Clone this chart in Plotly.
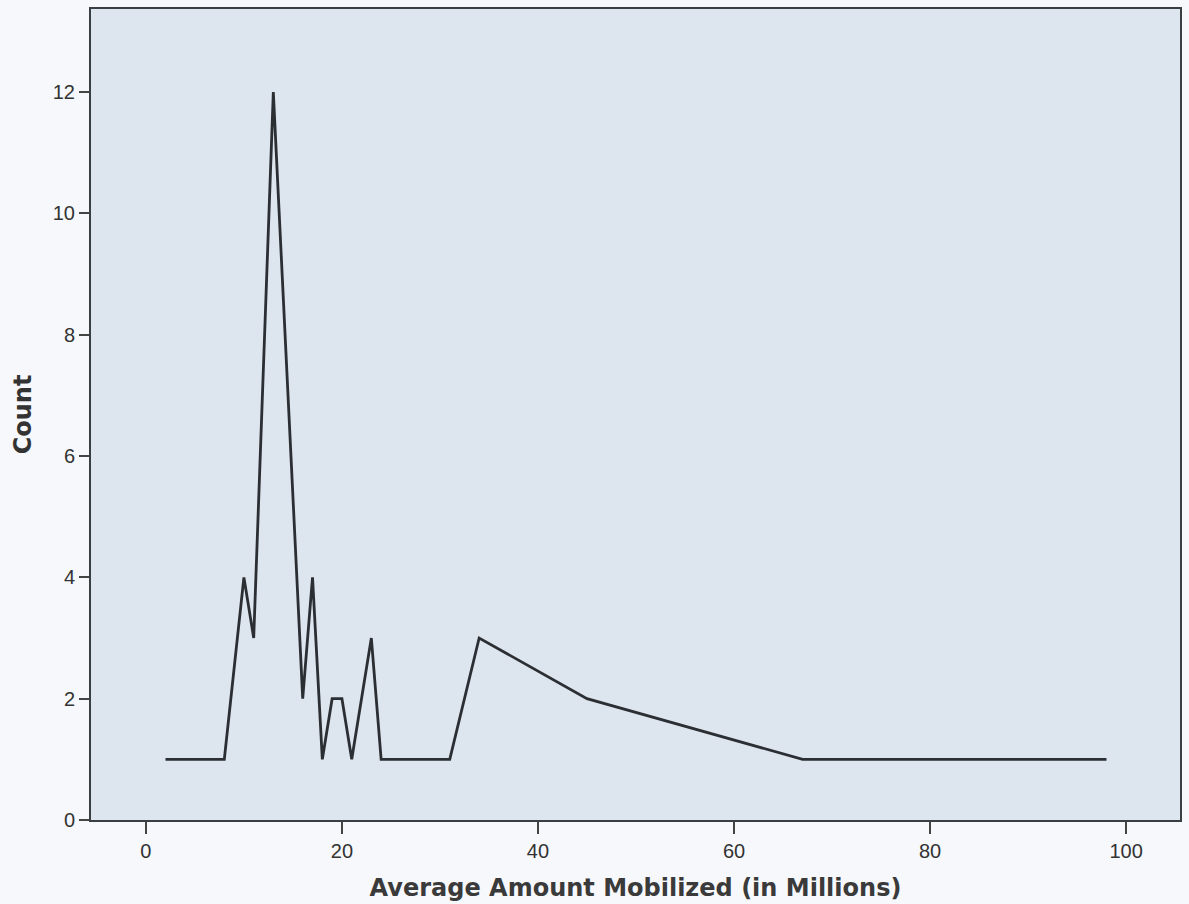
import plotly.graph_objects as go

amount = [2, 8, 10, 11, 13, 16, 17, 18, 19, 20, 21, 23, 24, 31, 34, 45, 67, 98]
count = [1, 1, 4, 3, 12, 2, 4, 1, 2, 2, 1, 3, 1, 1, 3, 2, 1, 1]

x_ticks = [0, 20, 40, 60, 80, 100]
y_ticks = [0, 2, 4, 6, 8, 10, 12]

fig = go.Figure()
fig.add_trace(go.Scatter(
    x=amount, y=count, mode="lines",
    line=dict(color="#2b2f33", width=2.8),
    showlegend=False,
))

fig.update_layout(
    width=1189, height=904,
    margin=dict(l=91, r=7, t=9, b=84),
    paper_bgcolor="#f6f8fb",
    plot_bgcolor="#dde5ee",
    font=dict(family="Liberation Sans, Arial, sans-serif", color="#333333"),
)
fig.update_xaxes(
    range=[-5.6, 105.5], tickvals=x_ticks, ticks="outside", ticklen=12,
    tickwidth=1.5, tickcolor="#444", showgrid=False, zeroline=False,
    showline=True, linecolor="#3a3f44", linewidth=2, mirror=True,
    tickfont=dict(size=20, color="#333"),
    title=dict(text="<b>Average Amount Mobilized (in Millions)</b>",
               font=dict(family="DejaVu Sans, sans-serif", size=24, color="#3a3a3a"),
               standoff=18),
)
fig.update_yaxes(
    range=[0, 13.37], tickvals=y_ticks, ticks="outside", ticklen=10,
    tickwidth=1.5, tickcolor="#444", showgrid=False, zeroline=False,
    showline=True, linecolor="#3a3f44", linewidth=2, mirror=True,
    tickfont=dict(size=20, color="#333"),
    title=dict(text="<b>Count</b>",
               font=dict(family="DejaVu Sans, sans-serif", size=24, color="#333"),
               standoff=14),
)

fig.write_html("out.html", config={"displayModeBar": False},
               post_script="document.body.style.margin='0';")
